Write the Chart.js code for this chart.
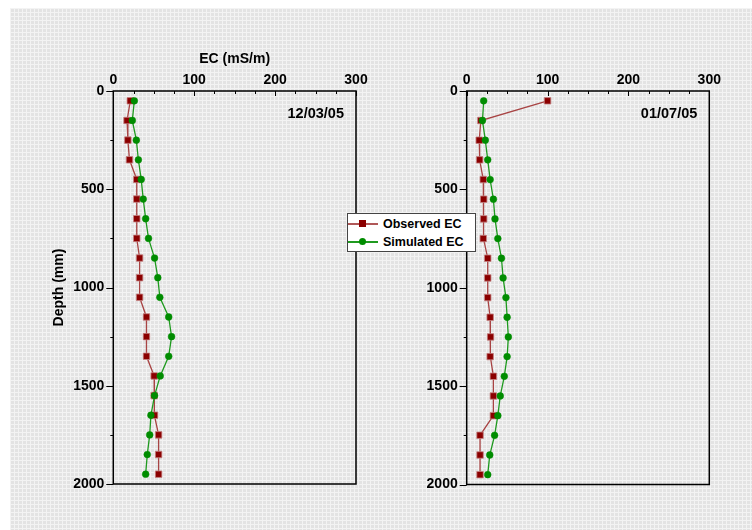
<!DOCTYPE html>
<html>
<head>
<meta charset="utf-8">
<script src="https://cdn.jsdelivr.net/npm/chart.js@4"></script>
<style>
html, body { margin: 0; padding: 0; background: #fff; }
#wrap { position: relative; width: 752px; height: 530px; overflow: hidden; }
#bg {
    position: absolute; left: 10px; top: 8px; width: 742px; height: 522px;
    background-color: #e3e3e3;
    background-image: linear-gradient(to right, #f3f3f3 1px, transparent 1px),
                      linear-gradient(to bottom, #f3f3f3 1px, transparent 1px);
    background-size: 4px 4px;
}
canvas { position: absolute; left: 0; top: 0; }
#legend {
    position: absolute; left: 347px; top: 213px; width: 129px; height: 39px;
    box-sizing: border-box; background: #fff; border: 1px solid #444;
    font: bold 12.5px "Liberation Sans", Arial, sans-serif; color: #000;
}
#legend .row { position: absolute; left: 0; height: 16px; width: 128px; }
#legend .ln { position: absolute; left: 0; top: 7px; width: 30px; height: 1.5px; }
#legend .mk { position: absolute; left: 11px; top: 4px; width: 7px; height: 7px; }
#legend .lb { position: absolute; left: 35px; top: 0; line-height: 16px; }
</style>
</head>
<body>
<div id="wrap">
    <div id="bg"></div>
    <canvas id="leftPanel" width="752" height="530"></canvas>
    <canvas id="rightPanel" width="752" height="530"></canvas>
    <div id="legend">
        <div class="row" style="top:2px">
            <span class="ln" style="background:#b05858"></span>
            <span class="mk" style="background:#8b0000"></span>
            <span class="lb">Observed EC</span>
        </div>
        <div class="row" style="top:20px">
            <span class="ln" style="background:#1f9a1f"></span>
            <span class="mk" style="background:#008c00;border-radius:50%"></span>
            <span class="lb">Simulated EC</span>
        </div>
    </div>
</div>
<script>
// -----------------------------
// Data (EC in mS/m, depth in mm)
// -----------------------------
const depths = [50, 150, 250, 350, 450, 550, 650, 750, 850, 950,
                1050, 1150, 1250, 1350, 1450, 1550, 1650, 1750, 1850, 1950];

// 12/03/05
const marObserved  = [21, 17, 18, 20, 29, 29, 29, 29, 32.5, 32.5,
                      32.5, 41, 41, 41, 50.5, 50.5, 51, 56, 56, 56];
const marSimulated = [26, 23.5, 28.5, 31, 34.5, 37, 40, 43.5, 51, 55,
                      57.5, 68.5, 72, 68.5, 58, 51, 46.5, 45, 42, 40];

// 01/07/05
const julObserved  = [100, 17.5, 15.5, 16, 20.5, 21, 21, 20.5, 26, 26,
                      26, 29, 29.5, 29, 33, 33, 33, 16.5, 16.5, 16.5];
const julSimulated = [21, 19.5, 23, 26, 29, 33, 35, 38.5, 43, 45,
                      48.5, 50, 51.5, 50, 46.5, 41.5, 38.5, 34.5, 28.5, 26];

const xTicks = [0, 100, 200, 300];
const yTicks = [0, 500, 1000, 1500, 2000];

Chart.defaults.font.family = '"Liberation Sans", Arial, sans-serif';
Chart.defaults.color = '#000';

// -----------------------------
// Frame, inner/outer ticks and date label
// -----------------------------
const panelDeco = {
    id: 'panelDeco',
    afterDraw(chart, args, opts) {
        const { ctx, chartArea: a, scales: { x, y } } = chart;
        ctx.save();
        ctx.strokeStyle = '#000';
        ctx.lineWidth = 1;
        ctx.beginPath();
        for (let v = 0; v <= 300; v += 25) {
            const px = Math.round(x.getPixelForValue(v)) + 0.5;
            const len = v % 100 === 0 ? 5 : 3;
            ctx.moveTo(px, a.top);
            ctx.lineTo(px, a.top + len);
        }
        for (let v = 0; v <= 2000; v += 250) {
            const py = Math.round(y.getPixelForValue(v)) + 0.5;
            const len = v % 500 === 0 ? 7 : 3;
            ctx.moveTo(a.left, py);
            ctx.lineTo(a.left - len, py);
        }
        ctx.stroke();
        ctx.lineWidth = 1.5;
        ctx.strokeRect(a.left, a.top, a.right - a.left, a.bottom - a.top);

        ctx.font = 'bold 14.5px "Liberation Sans", Arial, sans-serif';
        ctx.fillStyle = '#000';
        ctx.textAlign = 'right';
        ctx.textBaseline = 'alphabetic';
        ctx.fillText(opts.label, a.right - 12, a.top + 26.5);
        ctx.restore();
    }
};

function toPoints(vals) {
    return depths.map((d, i) => ({ x: vals[i], y: d }));
}

function makePanel(id, obs, sim, label, pad, yWidth, withTitles) {
    return new Chart(document.getElementById(id), {
        type: 'line',
        data: {
            datasets: [
                {
                    label: 'Observed EC',
                    data: toPoints(obs),
                    borderColor: '#a84444',
                    borderWidth: 1.3,
                    pointStyle: 'rect',
                    pointRadius: 4.6,
                    pointBackgroundColor: '#8b0000',
                    pointBorderColor: '#c48484',
                    pointBorderWidth: 0.8,
                    order: 1
                },
                {
                    label: 'Simulated EC',
                    data: toPoints(sim),
                    borderColor: '#1f9a1f',
                    borderWidth: 1.3,
                    pointStyle: 'circle',
                    pointRadius: 3.4,
                    pointBackgroundColor: '#008c00',
                    pointBorderColor: '#008c00',
                    pointBorderWidth: 0.5,
                    order: 0
                }
            ]
        },
        options: {
            responsive: false,
            animation: false,
            indexAxis: 'y',
            layout: { padding: pad },
            plugins: {
                legend: { display: false },
                tooltip: { enabled: false },
                panelDeco: { label }
            },
            scales: {
                x: {
                    type: 'linear',
                    position: 'top',
                    min: 0, max: 300,
                    afterBuildTicks: s => { s.ticks = xTicks.map(v => ({ value: v })); },
                    afterFit: s => { s.height = 91; },
                    grid: { display: false, drawTicks: false },
                    border: { display: false },
                    ticks: {
                        padding: 2,
                        font: { size: 14, weight: 'bold' },
                        callback: v => String(v)
                    },
                    title: {
                        display: withTitles,
                        text: 'EC (mS/m)',
                        font: { size: 14, weight: 'bold' },
                        padding: { top: 51, bottom: 0 }
                    }
                },
                y: {
                    type: 'linear',
                    reverse: true,
                    min: 0, max: 2000,
                    afterBuildTicks: s => { s.ticks = yTicks.map(v => ({ value: v })); },
                    afterFit: s => { s.width = yWidth; },
                    grid: { display: false, drawTicks: false },
                    border: { display: false },
                    ticks: {
                        padding: 9,
                        font: { size: 14, weight: 'bold' },
                        callback: v => String(v)
                    },
                    title: {
                        display: withTitles,
                        text: 'Depth (mm)',
                        font: { size: 14, weight: 'bold' },
                        padding: { top: 50.5, bottom: 0 }
                    }
                }
            }
        },
        plugins: [panelDeco]
    });
}

makePanel('leftPanel', marObserved, marSimulated, '12/03/05',
    { left: 0, top: 0, right: 396, bottom: 46 }, 113.3, true);
makePanel('rightPanel', julObserved, julSimulated, '01/07/05',
    { left: 375.7, top: 0, right: 42.7, bottom: 45.5 }, 91, false);
</script>
</body>
</html>
